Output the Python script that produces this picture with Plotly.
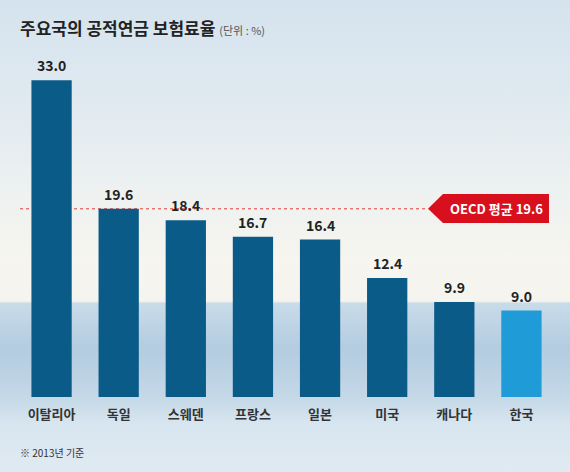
import base64
import plotly.graph_objects as go

# data
countries = ["이탈리아", "독일", "스웨덴", "프랑스", "일본", "미국", "캐나다", "한국"]
rates = [33.0, 19.6, 18.4, 16.7, 16.4, 12.4, 9.9, 9.0]
oecd_avg = 19.6

W, H = 570, 472
ML, MR, MT, MB = 18, 15, 60, 75
PW, PH = W - ML - MR, H - MT - MB
YMAX = 35.1
FONT = "Noto Sans CJK KR"

dark_blue = "#0b5b89"
korea_blue = "#1f9bd8"
bar_colors = [korea_blue if c == "한국" else dark_blue for c in countries]

# background: sky / sea gradient as an svg
svg = f"""<svg xmlns='http://www.w3.org/2000/svg' width='{W}' height='{H}' preserveAspectRatio='none'>
<defs><linearGradient id='g' x1='0' y1='0' x2='0' y2='1'>
<stop offset='0' stop-color='#d5e3ee'/>
<stop offset='0.2' stop-color='#dfe9f0'/>
<stop offset='0.4' stop-color='#edf1f0'/>
<stop offset='0.55' stop-color='#f6f5ef'/>
<stop offset='0.638' stop-color='#f5f4ee'/>
<stop offset='0.643' stop-color='#c8dbe9'/>
<stop offset='0.74' stop-color='#b3cce0'/>
<stop offset='0.84' stop-color='#c4d8e7'/>
<stop offset='0.9' stop-color='#d8e6f0'/>
<stop offset='1' stop-color='#e0eaf2'/>
</linearGradient></defs>
<rect width='{W}' height='{H}' fill='url(#g)'/>
</svg>"""
bg_src = "data:image/svg+xml;base64," + base64.b64encode(svg.encode()).decode()

fig = go.Figure()
fig.add_trace(go.Bar(
    x=countries, y=rates, marker=dict(color=bar_colors, line=dict(width=0)),
    width=0.6, hoverinfo="skip",
))

# value labels above bars
for c, v in zip(countries, rates):
    fig.add_annotation(x=c, y=v, text=f"<b>{v:.1f}</b>", showarrow=False, yanchor="bottom",
                       yshift=3, font=dict(size=14, color="#222", family=FONT))


def px_to_x(px):
    return (px - ML) / PW * len(countries) - 0.5


def px_to_y(py):
    return (MT + PH - py) / PH * YMAX


# OECD average line
fig.add_shape(type="line", x0=px_to_x(14), x1=px_to_x(428), y0=oecd_avg, y1=oecd_avg,
              line=dict(color="#e03a3a", width=1, dash="dot"), layer="below")

# red arrow label
tip, left, right = px_to_x(428), px_to_x(443), px_to_x(549)
ytop = px_to_y(194)
ybot = px_to_y(223)
path = f"M {tip},{oecd_avg} L {left},{ytop} L {right},{ytop} L {right},{ybot} L {left},{ybot} Z"
fig.add_shape(type="path", path=path, fillcolor="#d8101e", line=dict(width=0))
fig.add_annotation(x=(left + right) / 2, y=oecd_avg, text="<b>OECD 평균 19.6</b>", showarrow=False,
                   font=dict(size=13, color="white", family=FONT))

# title and notes
fig.add_annotation(xref="paper", yref="paper", x=0, y=1 + (MT - 27) / PH, xanchor="left",
                   yanchor="middle", showarrow=False,
                   text="<b>주요국의 공적연금 보험료율</b> <span style='font-size:11px;color:#555'>(단위 : %)</span>",
                   font=dict(size=17, color="#222", family=FONT))
fig.add_annotation(xref="paper", yref="paper", x=0, y=-(452 - MT - PH) / PH, xanchor="left",
                   yanchor="middle", showarrow=False, text="※ 2013년 기준",
                   font=dict(size=10, color="#333", family=FONT))

fig.add_layout_image(dict(
    source=bg_src, xref="paper", yref="paper",
    x=-ML / PW, y=1 + MT / PH, sizex=W / PW, sizey=H / PH,
    xanchor="left", yanchor="top", sizing="stretch", layer="below",
))

fig.update_layout(
    width=W, height=H,
    margin=dict(l=ML, r=MR, t=MT, b=MB),
    paper_bgcolor="#e6edf2", plot_bgcolor="rgba(0,0,0,0)",
    showlegend=False, bargap=0.4,
    font=dict(family=FONT),
    xaxis=dict(range=[-0.5, len(countries) - 0.5], showgrid=False, zeroline=False,
               showline=False, ticks="", ticklabelstandoff=8,
               tickvals=countries, ticktext=[f"<b>{c}</b>" for c in countries],
               tickfont=dict(size=13, color="#333")),
    yaxis=dict(range=[0, YMAX], visible=False, fixedrange=True),
)

fig.write_html("out.html", config={"displayModeBar": False},
               post_script="document.body.style.margin='0';document.body.style.overflow='hidden';")
